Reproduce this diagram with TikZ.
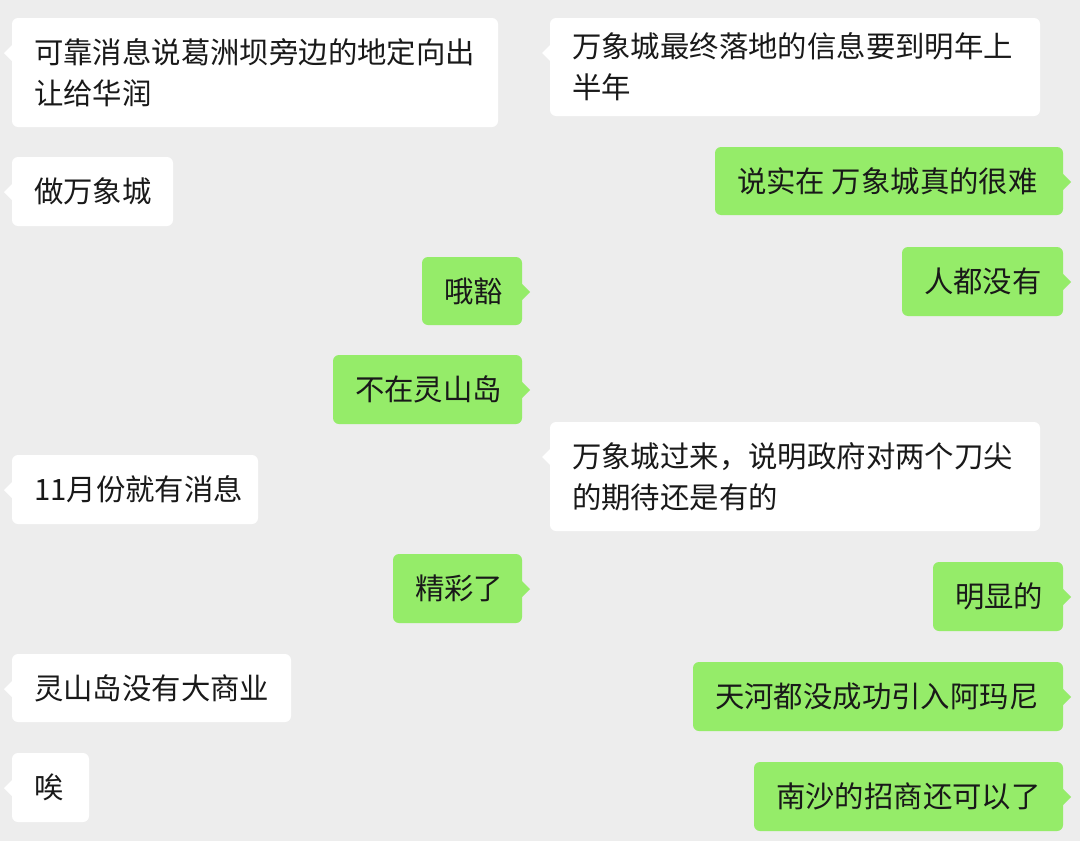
\documentclass[tikz,border=0pt]{standalone}
\usepackage{fontspec}
\setmainfont{Noto Sans CJK SC}
\definecolor{bg}{HTML}{EDEDED}
\definecolor{wx}{HTML}{95EC69}
\definecolor{tx}{HTML}{191919}
\tikzset{x=1bp,y=-1bp,
 msg/.style={anchor=west,inner sep=0pt,align=left,text=tx,font=\fontsize{29.5}{41}\selectfont}}
% name, x1,y1,x2,y2, text
\newcommand{\bubL}[6]{%
 \fill[white,rounded corners=6bp] (#2,#3) rectangle (#4,#5);
 \fill[white] (#2+1,#3+26) -- (#2-8,#3+35) -- (#2+1,#3+44) -- cycle;
 \node[msg] (#1) at (#2+22,{(#3+#5)/2}) {#6};}
\newcommand{\bubR}[6]{%
 \fill[wx,rounded corners=6bp] (#2,#3) rectangle (#4,#5);
 \fill[wx] (#4-1,#3+26) -- (#4+8,#3+35) -- (#4-1,#3+44) -- cycle;
 \node[msg] (#1) at (#2+22,{(#3+#5)/2}) {#6};}
\begin{document}
\begin{tikzpicture}
\fill[bg] (0,0) rectangle (1080,841);
\useasboundingbox (0,0) rectangle (1080,841);
\bubL{a1}{12}{18}{498}{127}{可靠消息说葛洲坝旁边的地定向出\\让给华润}
\bubL{a2}{12}{157}{173}{226}{做万象城}
\bubR{a3}{422}{257}{522}{325}{哦豁}
\bubR{a4}{333}{355}{522}{424}{不在灵山岛}
\bubL{a5}{12}{455}{258}{524}{11月份就有消息}
\bubR{a6}{393}{554}{522}{623}{精彩了}
\bubL{a7}{12}{654}{291}{722}{灵山岛没有大商业}
\bubL{a8}{12}{753}{89}{822}{唉}
\bubL{b1}{550}{18}{1040}{116}{万象城最终落地的信息要到明年上\\半年}
\bubR{b2}{715}{147}{1063}{215}{说实在 万象城真的很难}
\bubR{b3}{902}{247}{1063}{316}{人都没有}
\bubL{b4}{550}{422}{1040}{531}{万象城过来，说明政府对两个刀尖\\的期待还是有的}
\bubR{b5}{933}{562}{1063}{631}{明显的}
\bubR{b6}{693}{662}{1063}{731}{天河都没成功引入阿玛尼}
\bubR{b7}{754}{762}{1063}{831}{南沙的招商还可以了}
\end{tikzpicture}
\end{document}
